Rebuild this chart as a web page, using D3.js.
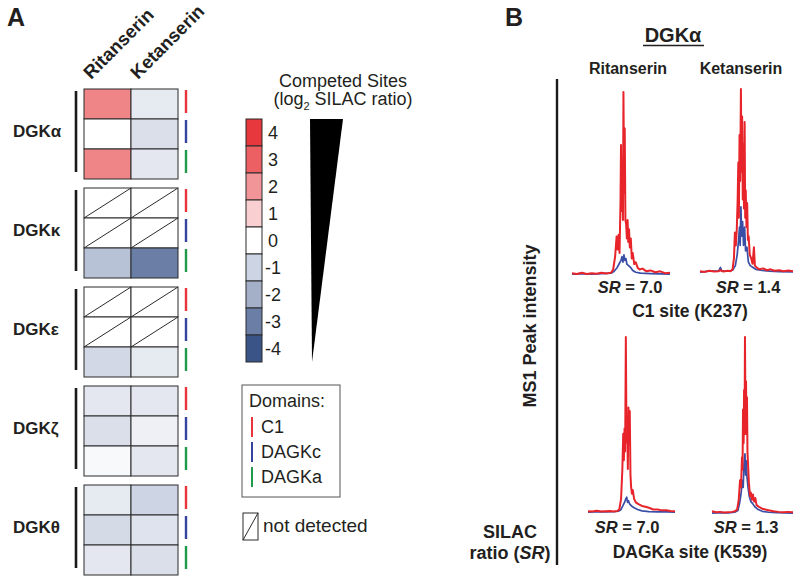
<!DOCTYPE html>
<html><head><meta charset="utf-8">
<script src="https://cdn.jsdelivr.net/npm/d3@7"></script>
<style>
body{margin:0;background:#fff}
svg{display:block}
text{font-family:"Liberation Sans",Arial,Helvetica,sans-serif;fill:#231f20}
</style>
</head><body>
<svg id="c" width="800" height="583"></svg>
<script>
// ---------- Panel A data ----------
const genes = ["DGKα","DGKκ","DGKε","DGKζ","DGKθ"];
const drugs = ["Ritanserin","Ketanserin"];
const domains = ["C1","DAGKc","DAGKa"];
const domainColors = ["#e8353b","#34439e","#1f9a4a"];
// log2 SILAC ratio per gene (rows: C1, DAGKc, DAGKa); null = not detected
const ritanserinValues = [[2.3,0,2.3],[null,null,-1.5],[null,null,-0.9],[-0.55,-0.75,-0.15],[-0.5,-0.85,-0.55]];
const ketanserinValues = [[-0.5,-0.75,-0.55],[null,null,-3.0],[null,null,-0.5],[-0.55,-0.35,-0.55],[-1.0,-0.65,-0.75]];
const legendTicks = [4,3,2,1,0,-1,-2,-3,-4];
const legendColors = ["#e6383d","#ec6064","#f19598","#f9cfd2","#ffffff","#cdd4e3","#a3b0c8","#6b7fa6","#3b5488"];

// ---------- Panel B data (retention index 0-100, relative MS1 intensity 0-100) ----------
const c1RitRed = [[0,1],[5,0.5],[10,1.2],[15,0.6],[20,1],[25,0.7],[30,1.2],[35,0.8],[40,1.3],[42,3],[44,10],[45.5,21],[46.5,14],[47.5,22],[48.5,12],[49.5,40],[50,71],[50.7,35],[51.3,60],[52,30],[52.5,100],[53.2,45],[53.8,80],[54.5,30],[55.2,28],[56,20],[56.7,30],[57.4,18],[58.2,25],[59,15],[60,20],[61,9],[62,12],[63.5,6],[65,7],[67,4],[69,3],[72,3.5],[76,2],[80,2.5],[85,1.5],[90,2],[95,1],[100,1.2]];
const c1RitBlue = [[0,0.5],[10,0.8],[20,0.5],[30,0.8],[40,1],[43,2],[46,4],[48,6],[50,8],[51,10],[52,7],[53,11],[54,8],[55,9],[56,6],[58,5],[60,4],[62,2.5],[65,1.5],[70,1],[80,0.8],[90,0.6],[100,0.5]];
const c1KetRed = [[0,1],[5,0.6],[10,1.2],[15,0.8],[20,1],[22,1.5],[25,0.8],[30,1.2],[33,1],[35,2],[36.5,8],[37.5,22],[38.5,15],[39.5,23],[40.5,40],[41.2,60],[41.8,30],[42.5,75],[43.2,50],[44,100],[44.6,55],[45.3,85],[46,40],[46.7,70],[47.3,35],[48,82],[48.6,30],[49.2,45],[50,25],[50.7,38],[51.5,18],[52.3,20],[53.5,10],[55,8],[56.5,5],[58,14],[59,4],[61,3],[64,2],[68,2.5],[72,1.5],[76,2],[80,1.2],[85,1.5],[90,1],[95,1.3],[100,1]];
const c1KetBlue = [[0,0.5],[10,1],[20,1],[22,3],[23.5,1],[30,1],[35,1.5],[38,4],[40,10],[41.5,18],[42.5,25],[43.2,15],[44,36],[44.8,20],[45.8,28],[46.8,15],[48,25],[49,12],[50.5,14],[52,6],[54,4],[57,3],[60,2],[65,1.5],[75,1],[85,0.8],[100,0.6]];
const dagkaRitRed = [[0,1],[5,0.8],[10,1.3],[15,0.8],[20,1],[25,1.2],[30,0.8],[34,1.2],[36,2],[38,8],[39.5,25],[40.5,45],[41.2,30],[42,48],[42.7,35],[43.5,100],[44.3,40],[45,55],[45.8,25],[46.5,60],[47.3,40],[48,58],[48.8,22],[49.5,15],[50.5,11],[51.5,13],[53,8],[55,6],[58,5],[62,4],[66,3.5],[70,3],[75,2],[80,2],[85,1.5],[90,1.5],[95,1.2],[100,1]];
const dagkaRitBlue = [[0,0.5],[10,0.8],[20,0.6],[30,0.8],[35,1],[38,2],[40,4],[42,6],[43.5,8],[44.5,9],[45.5,6],[46.5,7],[48,5],[50,4],[53,3],[57,2],[62,1.2],[70,0.8],[80,0.6],[90,0.6],[100,0.5]];
const dagkaKetRed = [[0,1.5],[5,1],[10,1.2],[15,0.8],[20,1],[25,1.2],[28,1.5],[31,2.5],[33,8],[34.6,19],[35.8,15],[37,32],[37.7,25],[38.3,59],[39,40],[39.6,70],[40.2,45],[40.7,100],[41.4,50],[42,75],[42.6,45],[43.2,66],[43.8,35],[44.4,29],[45.5,18],[47,10],[48,12],[49.4,8],[50.5,11],[52,7],[53.5,9],[55,5],[58,4],[62,3],[66,2.5],[71,2],[76,1.5],[82,1.2],[88,1],[94,1.2],[100,1]];
const dagkaKetBlue = [[0,0.5],[10,0.8],[20,0.6],[28,1],[32,2],[34,6],[36,12],[37.5,19],[38.5,15],[39.5,28],[40.7,34],[41.5,22],[42.3,30],[43.2,21],[44.5,15],[46,10],[48,7],[50,6],[53,4],[57,2.5],[62,1.5],[70,1],[80,0.8],[90,0.6],[100,0.5]];
const sites = ["C1 site (K237)","DAGKa site (K539)"];
const srValues = [["7.0","1.4"],["7.0","1.3"]];

// ---------- drawing ----------
const svg = d3.select("#c");

// Panel letters
svg.append("text").attr("x",7).attr("y",26).attr("font-size",25).attr("font-weight","bold").text("A");
svg.append("text").attr("x",505).attr("y",26).attr("font-size",25).attr("font-weight","bold").text("B");

// scales panel A
const colorScale = d3.scaleLinear().domain(legendTicks).range(legendColors);
const xCol = d3.scaleBand().domain(drugs).range([84,178]);
const groupTop = d3.scaleLinear().domain([0,genes.length-1]).range([89,485]);
const rowH = 30;
const values = [ritanserinValues, ketanserinValues];

// column headers
drugs.forEach((d,i)=>{
  const x = xCol(d) + 7, y = 80;
  svg.append("text").attr("transform",`translate(${x},${y}) rotate(-45)`)
    .attr("font-size",18.5).attr("font-weight","bold").text(d);
});

const gA = svg.append("g");
genes.forEach((g,gi)=>{
  const top = groupTop(gi);
  const grp = gA.append("g");
  grp.append("text").attr("x",13).attr("y",top+48).attr("font-size",17).attr("font-weight","bold").text(g);
  grp.append("line").attr("x1",76).attr("x2",76).attr("y1",top+2).attr("y2",top+83)
    .attr("stroke","#1a1a1a").attr("stroke-width",2.6);
  domains.forEach((dm,ri)=>{
    const y0 = top + ri*rowH;
    drugs.forEach((d,ci)=>{
      const v = values[ci][gi][ri];
      const x0 = xCol(d), w = xCol.bandwidth();
      grp.append("rect").attr("x",x0).attr("y",y0).attr("width",w).attr("height",rowH)
        .attr("fill", v===null ? "#fff" : colorScale(v)).attr("stroke","#2b2b2b").attr("stroke-width",1);
      if(v===null){
        grp.append("line").attr("x1",x0).attr("y1",y0+rowH).attr("x2",x0+w).attr("y2",y0)
          .attr("stroke","#2b2b2b").attr("stroke-width",1);
      }
    });
    grp.append("line").attr("x1",186).attr("x2",186).attr("y1",y0+1).attr("y2",y0+rowH-6)
      .attr("stroke",domainColors[ri]).attr("stroke-width",2.4);
  });
});

// colour legend
const legY = d3.scaleBand().domain(legendTicks).range([119,362]);
svg.append("text").attr("x",343).attr("y",87).attr("text-anchor","middle").attr("font-size",18).text("Competed Sites");
const t2 = svg.append("text").attr("x",343).attr("y",105).attr("text-anchor","middle").attr("font-size",18);
t2.append("tspan").text("(log");
t2.append("tspan").attr("font-size",11).attr("dy",5).text("2");
t2.append("tspan").attr("dy",-5).text(" SILAC ratio)");
legendTicks.forEach(v=>{
  svg.append("rect").attr("x",246).attr("y",legY(v)).attr("width",16).attr("height",legY.bandwidth())
    .attr("fill",colorScale(v)).attr("stroke","#2b2b2b").attr("stroke-width",1);
  svg.append("text").attr("x",v<0?265:268).attr("y",legY(v)+legY.bandwidth()/2+6.5)
    .attr("font-size",18).text(v<0 ? "-"+Math.abs(v) : String(v));
});
const yTop = legY(legendTicks[0]), yBot = legY(legendTicks[legendTicks.length-1]) + legY.bandwidth();
svg.append("path").attr("d",`M310,${yTop}L343,${yTop}L312,${yBot}Z`).attr("fill","#000");

// Domains legend
svg.append("rect").attr("x",242).attr("y",385).attr("width",98).attr("height",112)
  .attr("fill","none").attr("stroke","#555").attr("stroke-width",1);
svg.append("text").attr("x",249).attr("y",407).attr("font-size",18).text("Domains:");
domains.forEach((dm,i)=>{
  const by = 433 + i*25;
  svg.append("line").attr("x1",252).attr("x2",252).attr("y1",by-16).attr("y2",by+4)
    .attr("stroke",domainColors[i]).attr("stroke-width",2);
  svg.append("text").attr("x",261).attr("y",by).attr("font-size",18).text(dm);
});
svg.append("rect").attr("x",243).attr("y",513).attr("width",15).attr("height",27)
  .attr("fill","#fff").attr("stroke","#2b2b2b").attr("stroke-width",1);
svg.append("line").attr("x1",243).attr("y1",540).attr("x2",258).attr("y2",513).attr("stroke","#2b2b2b").attr("stroke-width",1);
svg.append("text").attr("x",263).attr("y",532).attr("font-size",19).text("not detected");

// ---------- Panel B ----------
svg.append("text").attr("x",673).attr("y",42).attr("text-anchor","middle")
  .attr("font-size",20).attr("font-weight","bold").text("DGKα");
svg.append("line").attr("x1",643).attr("x2",704).attr("y1",45.5).attr("y2",45.5).attr("stroke","#231f20").attr("stroke-width",1.6);
const colCenters = [628,741];
drugs.forEach((d,i)=>{
  svg.append("text").attr("x",colCenters[i]).attr("y",74).attr("text-anchor","middle")
    .attr("font-size",16).attr("font-weight","bold").text(d);
});
svg.append("line").attr("x1",557).attr("x2",557).attr("y1",79).attr("y2",565).attr("stroke","#1a1a1a").attr("stroke-width",2.4);
svg.append("text").attr("transform","translate(536,326) rotate(-90)").attr("text-anchor","middle")
  .attr("font-size",18).attr("font-weight","bold").text("MS1 Peak intensity");
svg.append("text").attr("x",510).attr("y",538).attr("text-anchor","middle").attr("font-size",18).attr("font-weight","bold").text("SILAC");
const sr = svg.append("text").attr("x",510).attr("y",559).attr("text-anchor","middle").attr("font-size",18).attr("font-weight","bold");
sr.append("tspan").text("ratio (");
sr.append("tspan").attr("font-style","italic").text("SR");
sr.append("tspan").text(")");

const traces = [[[c1RitRed,c1RitBlue],[c1KetRed,c1KetBlue]],[[dagkaRitRed,dagkaRitBlue],[dagkaKetRed,dagkaKetBlue]]];
const frames = [
  [{x0:572,x1:670,base:275,top:92},{x0:700,x1:793,base:273,top:89}],
  [{x0:588,x1:675,base:513,top:337},{x0:712,x1:793,base:514,top:337}]
];
const srY = [293,533], siteY = [317,558];
const srCenters = [[630,748],[627,746]];
sites.forEach((s,si)=>{
  drugs.forEach((d,ci)=>{
    const f = frames[si][ci];
    const x = d3.scaleLinear().domain([0,100]).range([f.x0,f.x1]);
    const y = d3.scaleLinear().domain([0,100]).range([f.base,f.top]);
    const line = d3.line().x(p=>x(p[0])).y(p=>y(p[1]));
    const [red,blue] = traces[si][ci];
    svg.append("path").attr("d",line(blue)).attr("fill","none").attr("stroke","#3a4ea6").attr("stroke-width",1.7).attr("stroke-linejoin","round");
    svg.append("path").attr("d",line(red)).attr("fill","none").attr("stroke","#e8242b").attr("stroke-width",2).attr("stroke-linejoin","round");
    const t = svg.append("text").attr("x",srCenters[si][ci]).attr("y",srY[si]).attr("text-anchor","middle")
      .attr("font-size",16.5).attr("font-weight","bold");
    t.append("tspan").attr("font-style","italic").text("SR");
    t.append("tspan").text(" = "+srValues[si][ci]);
  });
  svg.append("text").attr("x",690).attr("y",siteY[si]).attr("text-anchor","middle")
    .attr("font-size",17.5).attr("font-weight","bold").text(s);
});
</script>
</body></html>
